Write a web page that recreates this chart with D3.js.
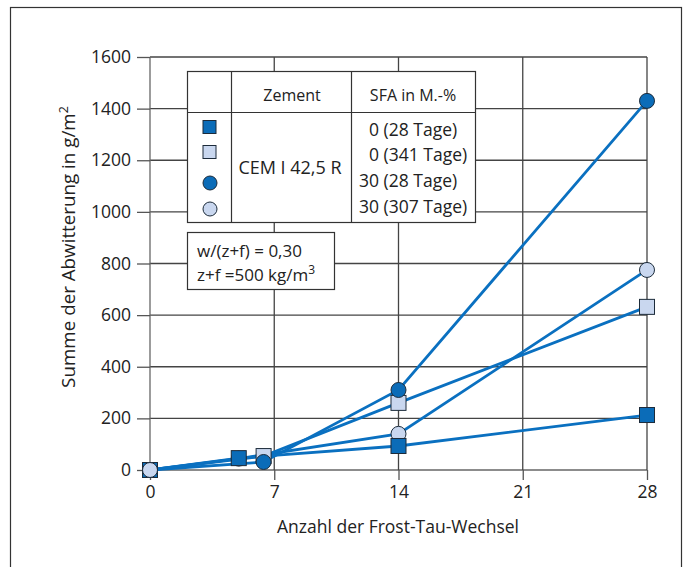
<!DOCTYPE html>
<html><head><meta charset="utf-8">
<script src="https://cdn.jsdelivr.net/npm/d3@7/dist/d3.min.js"></script>
<style>body{margin:0;background:#fff}svg{display:block;font-family:"Open Sans","Noto Sans",sans-serif}</style>
</head><body>
<svg id="c" width="688" height="567"></svg>
<script>
const xTicks = [0, 7, 14, 21, 28];
const yTicks = [0, 200, 400, 600, 800, 1000, 1200, 1400, 1600];
const seriesNames = ["0 (28 Tage)", "0 (341 Tage)", "30 (28 Tage)", "30 (307 Tage)"];
const darkSquareX = [0, 5, 14, 28];
const darkSquareY = [0, 46, 93, 213];
const lightSquareX = [0, 6.4, 14, 28];
const lightSquareY = [0, 54, 260, 632];
const darkCircleX = [0, 6.4, 14, 28];
const darkCircleY = [0, 31, 310, 1430];
const lightCircleX = [0, 5, 14, 28];
const lightCircleY = [0, 44, 140, 775];

const DARK = "#0b6cb8", LIGHT = "#c9d7ef", LINE = "#0a70c0", STROKE = "#1c2b3a";
const series = [
  {name: seriesNames[3], xs: lightCircleX, ys: lightCircleY, shape: "circle", fill: LIGHT},
  {name: seriesNames[1], xs: lightSquareX, ys: lightSquareY, shape: "square", fill: LIGHT},
  {name: seriesNames[2], xs: darkCircleX, ys: darkCircleY, shape: "circle", fill: DARK},
  {name: seriesNames[0], xs: darkSquareX, ys: darkSquareY, shape: "square", fill: DARK}
];

const svg = d3.select("#c");
const x = d3.scaleLinear().domain([0, 28]).range([150, 647]);
const y = d3.scaleLinear().domain([0, 1600]).range([470, 57]);

// outer frame
svg.append("rect").attr("x", 10.5).attr("y", 7.5).attr("width", 671).attr("height", 580)
  .attr("fill", "none").attr("stroke", "#333").attr("stroke-width", 1.2);

// grid
const g = svg.append("g");
g.selectAll(".hg").data(yTicks).join("line")
  .attr("x1", x(0)).attr("x2", x(28)).attr("y1", d => y(d)).attr("y2", d => y(d))
  .attr("stroke", d => d === 0 ? "#666" : "#444").attr("stroke-width", 1.3);
g.selectAll(".vg").data(xTicks).join("line")
  .attr("x1", d => x(d)).attr("x2", d => x(d)).attr("y1", y(0)).attr("y2", y(1600))
  .attr("stroke", d => d === 0 ? "#666" : "#444").attr("stroke-width", 1.3);

// axes
const yAxis = svg.append("g").attr("transform", `translate(${x(0)},0)`)
  .call(d3.axisLeft(y).tickValues(yTicks).tickFormat(d3.format("d")).tickSize(13).tickPadding(6));
const xAxis = svg.append("g").attr("transform", `translate(0,${y(0)})`)
  .call(d3.axisBottom(x).tickValues(xTicks).tickFormat(d3.format("d")).tickSize(10).tickPadding(6));
[yAxis, xAxis].forEach(a => {
  a.select(".domain").remove();
  a.selectAll(".tick line").attr("stroke", "#555").attr("stroke-width", 1.3);
  a.selectAll(".tick text").attr("font-size", 17.5).attr("fill", "#222")
    .attr("font-family", "'Open Sans','Noto Sans',sans-serif");
});

// axis titles
svg.append("text").attr("x", 398).attr("y", 533).attr("text-anchor", "middle")
  .attr("font-size", 17.5).attr("fill", "#222").text("Anzahl der Frost-Tau-Wechsel");
const yt = svg.append("text").attr("transform", "translate(75,247) rotate(-90)")
  .attr("text-anchor", "middle").attr("font-size", 18.8).attr("fill", "#222");
yt.append("tspan").text("Summe der Abwitterung in g/m");
yt.append("tspan").attr("font-size", 12.5).attr("dy", -7).text("2");

// lines
const line = d3.line().x(d => x(d[0])).y(d => y(d[1]));
series.forEach(s => {
  const pts = s.xs.map((v, i) => [v, s.ys[i]]);
  svg.append("path").datum(pts).attr("d", line).attr("fill", "none")
    .attr("stroke", LINE).attr("stroke-width", 2.8);
});
function marker(sel, shape, fill, cx, cy) {
  if (shape === "square") {
    sel.append("rect").attr("x", cx - 7.5).attr("y", cy - 7.5).attr("width", 15).attr("height", 15)
      .attr("fill", fill).attr("stroke", STROKE).attr("stroke-width", 1);
  } else {
    sel.append("circle").attr("cx", cx).attr("cy", cy).attr("r", 7.5)
      .attr("fill", fill).attr("stroke", STROKE).attr("stroke-width", 1);
  }
}
series.forEach(s => {
  const mg = svg.append("g");
  s.xs.forEach((v, i) => marker(mg, s.shape, s.fill, x(v), y(s.ys[i])));
});
// origin light circle on top (as in reference)
marker(svg.append("g"), "circle", LIGHT, x(lightCircleX[0]), y(lightCircleY[0]));

// legend table
const L = svg.append("g");
L.append("rect").attr("x", 187.5).attr("y", 71.5).attr("width", 288).attr("height", 151)
  .attr("fill", "#fff").attr("stroke", "#333").attr("stroke-width", 1.2);
[[231.5, 71.5, 231.5, 222.5], [351.5, 71.5, 351.5, 222.5], [187.5, 112.5, 475.5, 112.5]].forEach(p =>
  L.append("line").attr("x1", p[0]).attr("y1", p[1]).attr("x2", p[2]).attr("y2", p[3])
    .attr("stroke", "#333").attr("stroke-width", 1.2));
L.append("text").attr("x", 292).attr("y", 101).attr("text-anchor", "middle").attr("font-size", 16).attr("fill", "#222").text("Zement");
L.append("text").attr("x", 413).attr("y", 101).attr("text-anchor", "middle").attr("font-size", 16).attr("fill", "#222").text("SFA in M.-%");
L.append("text").attr("x", 290).attr("y", 174).attr("text-anchor", "middle").attr("font-size", 18).attr("fill", "#222").text("CEM I 42,5 R");
const legendRows = [
  {shape: "square", fill: DARK, my: 127, ty: 136, tx: 369},
  {shape: "square", fill: LIGHT, my: 152, ty: 161, tx: 369},
  {shape: "circle", fill: DARK, my: 183, ty: 187, tx: 359},
  {shape: "circle", fill: LIGHT, my: 209, ty: 213, tx: 359}
];
legendRows.forEach((r, i) => {
  if (r.shape === "square") {
    L.append("rect").attr("x", 203).attr("y", r.my - 6.5).attr("width", 13).attr("height", 13)
      .attr("fill", r.fill).attr("stroke", STROKE).attr("stroke-width", 1);
  } else {
    L.append("circle").attr("cx", 210).attr("cy", r.my).attr("r", 7)
      .attr("fill", r.fill).attr("stroke", STROKE).attr("stroke-width", 1);
  }
  L.append("text").attr("x", r.tx).attr("y", r.ty).attr("font-size", 17.5).attr("fill", "#222").text(seriesNames[i]);
});

// info box
const B = svg.append("g");
B.append("rect").attr("x", 187.5).attr("y", 232.5).attr("width", 147).attr("height", 57)
  .attr("fill", "#fff").attr("stroke", "#333").attr("stroke-width", 1.2);
B.append("text").attr("x", 197).attr("y", 257).attr("font-size", 17).attr("fill", "#222").text("w/(z+f) = 0,30");
const t2 = B.append("text").attr("x", 197).attr("y", 281).attr("font-size", 17).attr("fill", "#222");
t2.append("tspan").text("z+f =500 kg/m");
t2.append("tspan").attr("font-size", 12).attr("dy", -7).text("3");
</script>
</body></html>
